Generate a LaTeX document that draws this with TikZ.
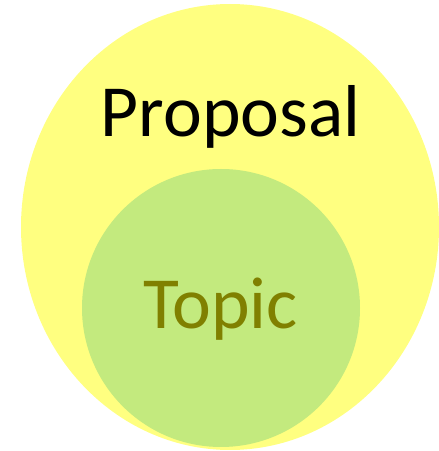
\documentclass[tikz,border=0pt]{standalone}
\usepackage{fontspec}
\setmainfont{Carlito}
\definecolor{outerfill}{RGB}{255,255,128}
\definecolor{innerfill}{RGB}{195,234,126}
\definecolor{topictext}{RGB}{128,128,0}
\begin{document}
\begin{tikzpicture}[x=1pt,y=1pt,
  lbl/.style={font=\fontsize{73.5}{80}\selectfont, anchor=base, inner sep=0pt}]
\useasboundingbox (0,0) rectangle (439,451);
\fill[outerfill] (230,224) ellipse [x radius=209, y radius=223];
\fill[innerfill] (221,143) circle [radius=139];
\node[lbl, text=black] (proposal) at (230.5,314) {Proposal};
\node[lbl, text=topictext] (topic) at (220.5,122) {Topic};
\end{tikzpicture}
\end{document}
